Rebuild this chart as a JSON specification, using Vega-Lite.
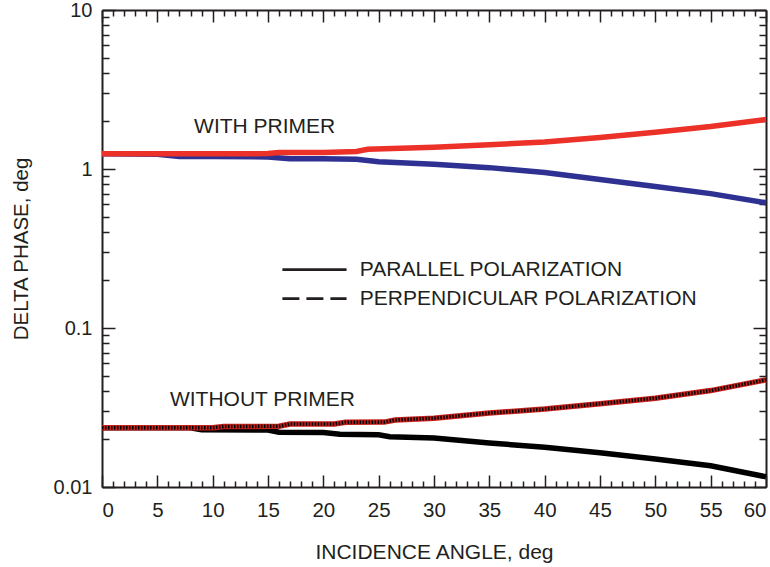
{
  "$schema": "https://vega.github.io/schema/vega-lite/v6.json",
  "width": 664,
  "height": 477,
  "autosize": {"type": "none"},
  "padding": {"left": 102, "top": 10, "right": 4, "bottom": 80},
  "background": "white",
  "config": {"view": {"stroke": null}},
  "datasets": {
    "curves": [
      {"angle": 0, "value": 1.245, "series": "with_par"},
      {"angle": 5, "value": 1.24, "series": "with_par"},
      {"angle": 7, "value": 1.2, "series": "with_par"},
      {"angle": 10, "value": 1.2, "series": "with_par"},
      {"angle": 15, "value": 1.19, "series": "with_par"},
      {"angle": 17, "value": 1.16, "series": "with_par"},
      {"angle": 20, "value": 1.16, "series": "with_par"},
      {"angle": 23, "value": 1.15, "series": "with_par"},
      {"angle": 25, "value": 1.11, "series": "with_par"},
      {"angle": 30, "value": 1.07, "series": "with_par"},
      {"angle": 35, "value": 1.02, "series": "with_par"},
      {"angle": 40, "value": 0.95, "series": "with_par"},
      {"angle": 45, "value": 0.86, "series": "with_par"},
      {"angle": 50, "value": 0.775, "series": "with_par"},
      {"angle": 55, "value": 0.7, "series": "with_par"},
      {"angle": 60, "value": 0.613, "series": "with_par"},
      {"angle": 0, "value": 1.245, "series": "with_perp"},
      {"angle": 10, "value": 1.245, "series": "with_perp"},
      {"angle": 15, "value": 1.25, "series": "with_perp"},
      {"angle": 16, "value": 1.27, "series": "with_perp"},
      {"angle": 20, "value": 1.27, "series": "with_perp"},
      {"angle": 23, "value": 1.29, "series": "with_perp"},
      {"angle": 24, "value": 1.33, "series": "with_perp"},
      {"angle": 30, "value": 1.37, "series": "with_perp"},
      {"angle": 35, "value": 1.42, "series": "with_perp"},
      {"angle": 40, "value": 1.48, "series": "with_perp"},
      {"angle": 45, "value": 1.58, "series": "with_perp"},
      {"angle": 50, "value": 1.7, "series": "with_perp"},
      {"angle": 55, "value": 1.85, "series": "with_perp"},
      {"angle": 60, "value": 2.05, "series": "with_perp"},
      {"angle": 0, "value": 0.0236, "series": "without_par"},
      {"angle": 8, "value": 0.0236, "series": "without_par"},
      {"angle": 9, "value": 0.0229, "series": "without_par"},
      {"angle": 15, "value": 0.0228, "series": "without_par"},
      {"angle": 16, "value": 0.0221, "series": "without_par"},
      {"angle": 20, "value": 0.022, "series": "without_par"},
      {"angle": 21.5, "value": 0.0215, "series": "without_par"},
      {"angle": 25, "value": 0.0213, "series": "without_par"},
      {"angle": 26, "value": 0.0207, "series": "without_par"},
      {"angle": 30, "value": 0.0203, "series": "without_par"},
      {"angle": 35, "value": 0.0189, "series": "without_par"},
      {"angle": 40, "value": 0.0178, "series": "without_par"},
      {"angle": 45, "value": 0.0164, "series": "without_par"},
      {"angle": 50, "value": 0.015, "series": "without_par"},
      {"angle": 55, "value": 0.0136, "series": "without_par"},
      {"angle": 60, "value": 0.0116, "series": "without_par"},
      {"angle": 0, "value": 0.0236, "series": "without_perp"},
      {"angle": 10, "value": 0.0236, "series": "without_perp"},
      {"angle": 11, "value": 0.024, "series": "without_perp"},
      {"angle": 16, "value": 0.0241, "series": "without_perp"},
      {"angle": 17, "value": 0.0249, "series": "without_perp"},
      {"angle": 21, "value": 0.0249, "series": "without_perp"},
      {"angle": 22, "value": 0.0255, "series": "without_perp"},
      {"angle": 25.5, "value": 0.0256, "series": "without_perp"},
      {"angle": 26.5, "value": 0.0264, "series": "without_perp"},
      {"angle": 30, "value": 0.0271, "series": "without_perp"},
      {"angle": 35, "value": 0.0292, "series": "without_perp"},
      {"angle": 40, "value": 0.0309, "series": "without_perp"},
      {"angle": 45, "value": 0.0334, "series": "without_perp"},
      {"angle": 50, "value": 0.0362, "series": "without_perp"},
      {"angle": 55, "value": 0.0404, "series": "without_perp"},
      {"angle": 60, "value": 0.0472, "series": "without_perp"}
    ],
    "annotations": [
      {"angle": 14.7, "value": 1.83, "text": "WITH PRIMER"},
      {"angle": 14.5, "value": 0.0354, "text": "WITHOUT PRIMER"}
    ],
    "legendText": [
      {"angle": 23.3, "value": 0.233, "text": "PARALLEL POLARIZATION"},
      {"angle": 23.3, "value": 0.153, "text": "PERPENDICULAR POLARIZATION"}
    ],
    "legendLines": [
      {"angle": 16.3, "value": 0.233, "style": "solid"},
      {"angle": 22.1, "value": 0.233, "style": "solid"},
      {"angle": 16.3, "value": 0.153, "style": "dashed"},
      {"angle": 22.1, "value": 0.153, "style": "dashed"}
    ]
  },
  "resolve": {"axis": {"x": "independent", "y": "independent"}},
  "layer": [
    {
      "data": {"name": "curves"},
      "transform": [{"filter": "datum.series === 'with_par'"}],
      "mark": {"type": "line", "color": "#2e3192", "strokeWidth": 5.5},
      "encoding": {
        "x": {"field": "angle", "type": "quantitative",
          "scale": {"domain": [0, 60], "nice": false, "zero": false},
          "axis": {"orient": "bottom", "values": [0, 5, 10, 15, 20, 25, 30, 35, 40, 45, 50, 55, 60],
            "tickSize": -12, "tickWidth": 1.5, "tickColor": "#231f20",
            "domainColor": "#231f20", "domainWidth": 2, "grid": false,
            "labelPadding": 25, "labelFont": "Liberation Sans", "labelFontSize": 20.5, "labelColor": "#231f20",
            "labelOverlap": false, "labelFlush": true, "labelBound": false,
            "title": "INCIDENCE ANGLE, deg", "titleFont": "Liberation Sans", "titleFontSize": 21,
            "titleFontWeight": "normal", "titleColor": "#231f20", "titlePadding": 21}},
        "y": {"field": "value", "type": "quantitative",
          "scale": {"type": "log", "domain": [0.01, 10], "nice": false},
          "axis": {"orient": "left", "values": [0.01, 0.1, 1, 10], "format": "~g",
            "tickSize": -13, "tickWidth": 1.5, "tickColor": "#231f20",
            "domainColor": "#231f20", "domainWidth": 2, "grid": false,
            "labelPadding": 23, "labelFont": "Liberation Sans", "labelFontSize": 20, "labelColor": "#231f20",
            "labelOverlap": false, "labelFlush": false, "labelBound": false,
            "title": "DELTA PHASE, deg", "titleFont": "Liberation Sans", "titleFontSize": 20.5,
            "titleFontWeight": "normal", "titleColor": "#231f20", "titlePadding": 22}}
      }
    },
    {
      "data": {"name": "curves"},
      "transform": [{"filter": "datum.series === 'with_perp'"}],
      "mark": {"type": "line", "color": "#ec3128", "strokeWidth": 5.5},
      "encoding": {
        "x": {"field": "angle", "type": "quantitative",
          "axis": {"orient": "bottom", "values": [1,2,3,4,6,7,8,9,11,12,13,14,16,17,18,19,21,22,23,24,26,27,28,29,31,32,33,34,36,37,38,39,41,42,43,44,46,47,48,49,51,52,53,54,56,57,58,59],
            "tickSize": -6, "tickWidth": 1.5, "tickColor": "#231f20", "domain": false,
            "labels": false, "grid": false, "title": null}},
        "y": {"field": "value", "type": "quantitative",
          "axis": {"orient": "left", "values": [0.02,0.03,0.04,0.05,0.06,0.07,0.08,0.09,0.2,0.3,0.4,0.5,0.6,0.7,0.8,0.9,2,3,4,5,6,7,8,9],
            "tickSize": -7, "tickWidth": 1.5, "tickColor": "#231f20", "domain": false,
            "labels": false, "grid": false, "title": null}}
      }
    },
    {
      "data": {"name": "curves"},
      "transform": [{"filter": "datum.series === 'without_par'"}],
      "mark": {"type": "line", "color": "#000000", "strokeWidth": 5.5},
      "encoding": {
        "x": {"field": "angle", "type": "quantitative",
          "axis": {"orient": "top", "values": [0, 5, 10, 15, 20, 25, 30, 35, 40, 45, 50, 55, 60],
            "tickSize": -12, "tickWidth": 1.5, "tickColor": "#231f20",
            "domainColor": "#231f20", "domainWidth": 2,
            "labels": false, "grid": false, "title": null}},
        "y": {"field": "value", "type": "quantitative",
          "axis": {"orient": "right", "values": [0.01, 0.1, 1, 10],
            "tickSize": -13, "tickWidth": 1.5, "tickColor": "#231f20",
            "domainColor": "#231f20", "domainWidth": 2,
            "labels": false, "grid": false, "title": null}}
      }
    },
    {
      "data": {"name": "curves"},
      "transform": [{"filter": "datum.series === 'without_perp'"}],
      "mark": {"type": "line", "color": "#c4201c", "strokeWidth": 5.5},
      "encoding": {
        "x": {"field": "angle", "type": "quantitative",
          "axis": {"orient": "top", "values": [1,2,3,4,6,7,8,9,11,12,13,14,16,17,18,19,21,22,23,24,26,27,28,29,31,32,33,34,36,37,38,39,41,42,43,44,46,47,48,49,51,52,53,54,56,57,58,59],
            "tickSize": -6, "tickWidth": 1.5, "tickColor": "#231f20", "domain": false,
            "labels": false, "grid": false, "title": null}},
        "y": {"field": "value", "type": "quantitative",
          "axis": {"orient": "right", "values": [0.02,0.03,0.04,0.05,0.06,0.07,0.08,0.09,0.2,0.3,0.4,0.5,0.6,0.7,0.8,0.9,2,3,4,5,6,7,8,9],
            "tickSize": -7, "tickWidth": 1.5, "tickColor": "#231f20", "domain": false,
            "labels": false, "grid": false, "title": null}}
      }
    },
    {
      "data": {"name": "curves"},
      "transform": [{"filter": "datum.series === 'without_perp'"}],
      "mark": {"type": "line", "color": "#000000", "strokeWidth": 3.5, "strokeDash": [1.5, 1.5]},
      "encoding": {
        "x": {"field": "angle", "type": "quantitative", "axis": null},
        "y": {"field": "value", "type": "quantitative", "axis": null}
      }
    },
    {
      "data": {"name": "legendLines"},
      "transform": [{"filter": "datum.style === 'solid'"}],
      "mark": {"type": "line", "color": "#231f20", "strokeWidth": 2.7},
      "encoding": {
        "x": {"field": "angle", "type": "quantitative", "axis": null},
        "y": {"field": "value", "type": "quantitative", "axis": null}
      }
    },
    {
      "data": {"name": "legendLines"},
      "transform": [{"filter": "datum.style === 'dashed'"}],
      "mark": {"type": "line", "color": "#231f20", "strokeWidth": 2.7, "strokeDash": [17, 7]},
      "encoding": {
        "x": {"field": "angle", "type": "quantitative", "axis": null},
        "y": {"field": "value", "type": "quantitative", "axis": null}
      }
    },
    {
      "data": {"name": "annotations"},
      "mark": {"type": "text", "align": "center", "baseline": "middle", "font": "Liberation Sans", "fontSize": 21, "color": "#231f20"},
      "encoding": {
        "x": {"field": "angle", "type": "quantitative", "axis": null},
        "y": {"field": "value", "type": "quantitative", "axis": null},
        "text": {"field": "text"}
      }
    },
    {
      "data": {"name": "legendText"},
      "mark": {"type": "text", "align": "left", "baseline": "middle", "font": "Liberation Sans", "fontSize": 21, "color": "#231f20"},
      "encoding": {
        "x": {"field": "angle", "type": "quantitative", "axis": null},
        "y": {"field": "value", "type": "quantitative", "axis": null},
        "text": {"field": "text"}
      }
    }
  ]
}
